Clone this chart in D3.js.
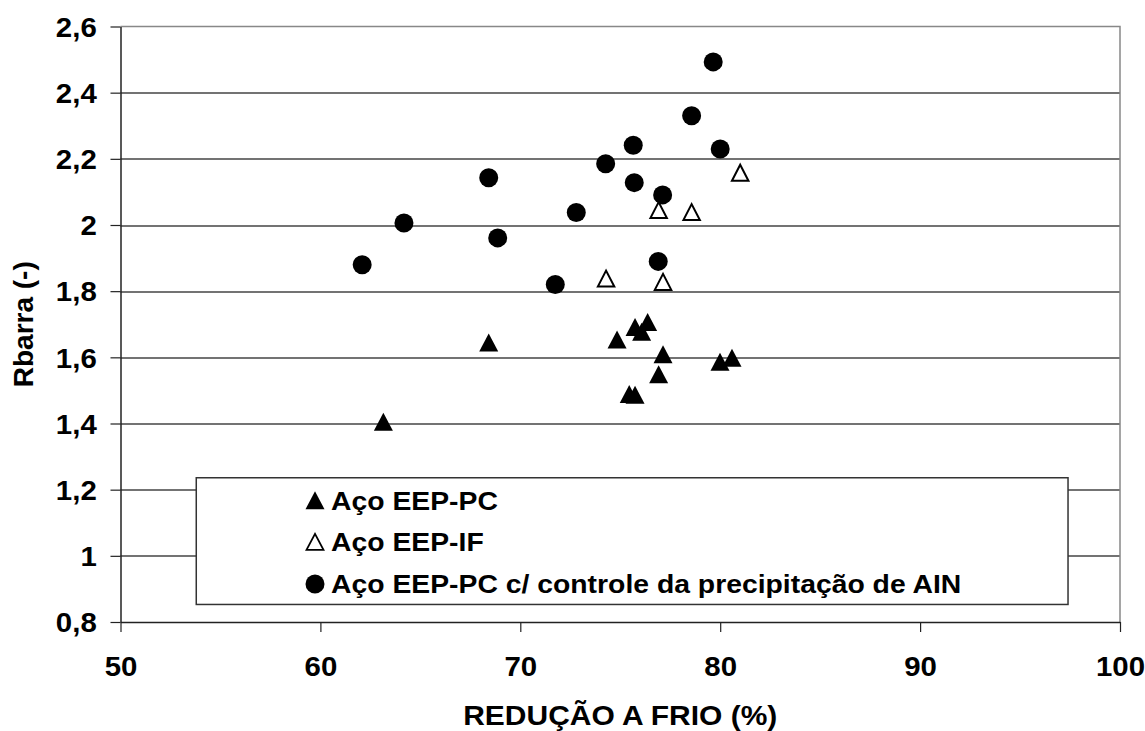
<!DOCTYPE html>
<html>
<head>
<meta charset="utf-8">
<script src="https://cdn.jsdelivr.net/npm/d3@7"></script>
<style>
  body { margin: 0; background: #fff; }
  text { font-family: "Liberation Sans", Arial, sans-serif; font-weight: bold; fill: #000; }
</style>
</head>
<body>
<script>
// Aço EEP-PC (filled triangles)
var pcX = [63.15, 68.42, 74.84, 75.74, 76.37, 76.07, 77.14, 76.92, 75.45, 75.74, 79.99, 80.59];
var pcY = [1.405, 1.645, 1.654, 1.692, 1.707, 1.677, 1.609, 1.549, 1.489, 1.487, 1.587, 1.599];
// Aço EEP-IF (open triangles)
var ifX = [74.29, 77.14, 76.92, 78.57, 81.0];
var ifY = [1.838, 1.828, 2.045, 2.039, 2.158];
// Aço EEP-PC c/ controle (circles)
var ctX = [62.09, 64.18, 68.42, 68.87, 71.75, 72.8, 74.27, 75.65, 75.7, 77.12, 76.9, 78.57, 79.65, 80.0];
var ctY = [1.880, 2.006, 2.143, 1.961, 1.820, 2.038, 2.185, 2.241, 2.128, 2.091, 1.890, 2.330, 2.493, 2.230];

var xTicks = [50, 60, 70, 80, 90, 100];
var yTicks = [0.8, 1, 1.2, 1.4, 1.6, 1.8, 2, 2.2, 2.4, 2.6];
var legendLabels = ["Aço EEP-PC", "Aço EEP-IF", "Aço EEP-PC c/ controle da precipitação de AIN"];

var W = 1145, H = 731;
var m = {left: 120.5, right: 25, top: 26.5, bottom: 109};
var w = W - m.left - m.right, h = H - m.top - m.bottom;
var sx = 1.09; // text is a bit wider than Liberation Sans

var xSc = d3.scaleLinear().domain([50, 100]).range([0, w]);
var ySc = d3.scaleLinear().domain([0.8, 2.6]).range([h, 0]);
var fmt = function(d) { return String(d).replace(".", ","); };

var svg = d3.select("body").append("svg").attr("width", W).attr("height", H);
var g = svg.append("g").attr("transform", "translate(" + m.left + "," + m.top + ")");

// grid lines
g.append("g").selectAll("line")
  .data(yTicks.slice(1, -1))
  .enter().append("line")
  .attr("x1", 0).attr("x2", w)
  .attr("y1", function(d) { return Math.round(ySc(d)) + 0.5; })
  .attr("y2", function(d) { return Math.round(ySc(d)) + 0.5; })
  .attr("stroke", "#444").attr("stroke-width", 1.3);

// top & right border (gray)
g.append("path")
  .attr("d", "M0," + ySc(2.6) + "H" + xSc(100) + "V" + ySc(0.8))
  .attr("fill", "none").attr("stroke", "#888").attr("stroke-width", 1.5);

var xAxis = g.append("g").attr("transform", "translate(0," + h + ")")
  .call(d3.axisBottom(xSc).tickValues(xTicks).tickSize(10).tickPadding(25).tickSizeOuter(0));
var yAxis = g.append("g")
  .call(d3.axisLeft(ySc).tickValues(yTicks).tickFormat(fmt).tickSize(10).tickPadding(11.8).tickSizeOuter(0));
[xAxis, yAxis].forEach(function(a) {
  a.select(".domain").attr("stroke", "#222").attr("stroke-width", 1.5);
  a.selectAll(".tick line").attr("stroke", "#222").attr("stroke-width", 1.2);
  a.selectAll("text").attr("font-size", "27px").attr("font-family", "Liberation Sans, Arial, sans-serif")
    .attr("font-weight", "bold").attr("fill", "#000")
    .attr("transform", "scale(" + sx + ",1)");
});
xAxis.selectAll("text").attr("dy", "0.71em");
yAxis.selectAll("text").attr("dy", "0.36em");

// axis titles
svg.append("text").attr("transform", "translate(" + (m.left + w / 2) + ",725) scale(" + (sx + 0.02) + ",1)")
  .attr("text-anchor", "middle").attr("font-size", "27px").text("REDUÇÃO A FRIO (%)");
svg.append("text").attr("transform", "translate(33," + (m.top + h / 2) + ") rotate(-90)")
  .attr("text-anchor", "middle").attr("font-size", "28px").text("Rbarra (-)");

// legend box
var lg = g.append("g");
lg.append("rect")
  .attr("x", xSc(53.79)).attr("y", ySc(1.236))
  .attr("width", xSc(97.4) - xSc(53.79)).attr("height", ySc(0.853) - ySc(1.236))
  .attr("fill", "#fff").attr("stroke", "#333").attr("stroke-width", 1.5);

function tri(cx, cy, tw, th) {
  return "M" + (cx - tw / 2) + "," + (cy + th / 2) + "L" + cx + "," + (cy - th / 2) + "L" + (cx + tw / 2) + "," + (cy + th / 2) + "Z";
}

// points
g.append("g").selectAll("path").data(d3.range(pcX.length)).enter().append("path")
  .attr("d", function(i) { return tri(xSc(pcX[i]), ySc(pcY[i]), 19, 18); })
  .attr("fill", "#000");
g.append("g").selectAll("path").data(d3.range(ifX.length)).enter().append("path")
  .attr("d", function(i) { return tri(xSc(ifX[i]), ySc(ifY[i]), 16.5, 16); })
  .attr("fill", "#fff").attr("stroke", "#000").attr("stroke-width", 2);
g.append("g").selectAll("circle").data(d3.range(ctX.length)).enter().append("circle")
  .attr("cx", function(i) { return xSc(ctX[i]); })
  .attr("cy", function(i) { return ySc(ctY[i]); })
  .attr("r", 9.5).attr("fill", "#000");

// legend entries
var rows = [ySc(1.168), ySc(1.042), ySc(0.915)];
var lx = xSc(59.73);
lg.append("path").attr("d", tri(lx, rows[0], 19, 18)).attr("fill", "#000");
lg.append("path").attr("d", tri(lx, rows[1], 17, 16)).attr("fill", "#fff").attr("stroke", "#000").attr("stroke-width", 1.8);
lg.append("circle").attr("cx", lx).attr("cy", rows[2]).attr("r", 9.5).attr("fill", "#000");
lg.selectAll("text.lab").data(legendLabels).enter().append("text")
  .attr("class", "lab")
  .attr("transform", function(d, i) { return "translate(" + (lx + 16) + "," + rows[i] + ") scale(" + sx + ",1)"; })
  .attr("dy", "0.36em").attr("font-size", "26px").text(function(d) { return d; });
</script>
</body>
</html>
